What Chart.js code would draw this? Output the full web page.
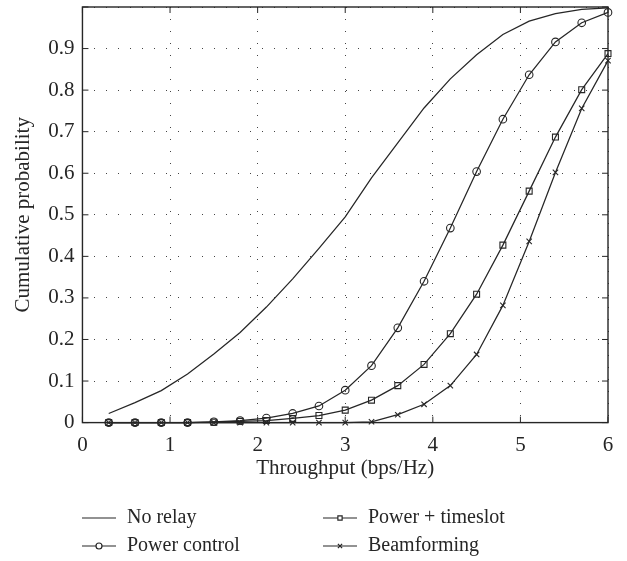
<!DOCTYPE html>
<html>
<head>
<meta charset="utf-8">
<script src="https://cdn.jsdelivr.net/npm/chart.js@4.4.1/dist/chart.umd.min.js"></script>
<style>
  html, body { margin: 0; padding: 0; background: #fff; }
  #wrap { width: 627px; height: 561px; position: relative; }
</style>
</head>
<body>
<div id="wrap"><canvas id="c"></canvas></div>
<script>
// throughput samples (bps/Hz) shared by every curve
var throughput = [0.3, 0.6, 0.9, 1.2, 1.5, 1.8, 2.1, 2.4, 2.7, 3.0,
                  3.3, 3.6, 3.9, 4.2, 4.5, 4.8, 5.1, 5.4, 5.7, 6.0];

// cumulative probability
var noRelay       = [0.022, 0.048, 0.077, 0.117, 0.165, 0.217, 0.278, 0.346, 0.419, 0.495,
                     0.589, 0.673, 0.757, 0.827, 0.885, 0.934, 0.966, 0.984, 0.994, 0.998];
var powerControl  = [0, 0, 0, 0, 0.002, 0.005, 0.011, 0.022, 0.040, 0.078,
                     0.137, 0.228, 0.340, 0.468, 0.604, 0.730, 0.837, 0.916, 0.962, 0.987];
var powerTimeslot = [0, 0, 0, 0, 0.001, 0.003, 0.005, 0.010, 0.017, 0.030,
                     0.054, 0.089, 0.140, 0.214, 0.309, 0.427, 0.557, 0.687, 0.801, 0.888];
var beamforming   = [0, 0, 0, 0, 0, 0, 0, 0, 0, 0,
                     0.002, 0.019, 0.044, 0.089, 0.164, 0.282, 0.436, 0.602, 0.756, 0.871];

var seriesNames = ['No relay', 'Power control', 'Power + timeslot', 'Beamforming'];
var xTicks = [0, 1, 2, 3, 4, 5, 6];
var yTicks = [0, 0.1, 0.2, 0.3, 0.4, 0.5, 0.6, 0.7, 0.8, 0.9, 1];

var FONT = "'Liberation Serif', 'DejaVu Serif', serif";
var INK = '#262626';

function pts(ys) {
  return throughput.map(function(x, i) { return { x: x, y: ys[i] }; });
}

function series(label, ys, style, r) {
  return {
    label: label,
    data: pts(ys),
    borderColor: INK,
    borderWidth: 1.25,
    backgroundColor: 'rgba(255,255,255,0)',
    pointStyle: style,
    pointRadius: r,
    pointBorderWidth: 1.1,
    pointBorderColor: INK,
    pointBackgroundColor: 'rgba(255,255,255,0)',
    tension: 0,
    clip: false
  };
}

// frame with inward ticks, plus the two column legend under the axis title
var framePlugin = {
  id: 'frame',
  afterDraw: function(chart) {
    var ctx = chart.ctx, a = chart.chartArea;
    var sx = chart.scales.x, sy = chart.scales.y;
    ctx.save();
    ctx.strokeStyle = INK;
    ctx.setLineDash([]);
    ctx.lineWidth = 1.4;
    ctx.strokeRect(a.left, a.top, a.right - a.left, a.bottom - a.top);
    ctx.lineWidth = 1;
    ctx.beginPath();
    xTicks.forEach(function(v) {
      var p = sx.getPixelForValue(v);
      ctx.moveTo(p, a.bottom); ctx.lineTo(p, a.bottom - 6);
      ctx.moveTo(p, a.top); ctx.lineTo(p, a.top + 6);
    });
    yTicks.forEach(function(v) {
      var p = sy.getPixelForValue(v);
      ctx.moveTo(a.left, p); ctx.lineTo(a.left + 6, p);
      ctx.moveTo(a.right, p); ctx.lineTo(a.right - 6, p);
    });
    ctx.stroke();

    // legend
    var cols = [82, 323], rows = [518, 546];
    var place = [[0, 0], [0, 1], [1, 0], [1, 1]];
    ctx.font = '20px ' + FONT;
    ctx.textBaseline = 'middle';
    chart.data.datasets.forEach(function(ds, i) {
      var x = cols[place[i][0]], y = rows[place[i][1]];
      ctx.lineWidth = 1.2;
      ctx.beginPath();
      ctx.moveTo(x, y); ctx.lineTo(x + 34, y);
      ctx.stroke();
      if (ds.pointRadius > 0) {
        ctx.fillStyle = '#fff';
        Chart.helpers.drawPoint(ctx, {
          pointStyle: ds.pointStyle, radius: 3, rotation: 0, borderWidth: 1
        }, x + 17, y);
      }
      ctx.fillStyle = INK;
      ctx.fillText(ds.label, x + 45, y);
    });
    ctx.restore();
  }
};

new Chart(document.getElementById('c'), {
  type: 'line',
  data: {
    datasets: [
      series(seriesNames[0], noRelay, 'circle', 0),
      series(seriesNames[1], powerControl, 'circle', 3.8),
      series(seriesNames[2], powerTimeslot, 'rect', 4.2),
      series(seriesNames[3], beamforming, 'crossRot', 3.8)
    ]
  },
  options: {
    responsive: true,
    maintainAspectRatio: false,
    animation: false,
    layout: { padding: { top: 7, right: 19, bottom: 80, left: 11 } },
    plugins: { legend: { display: false }, tooltip: { enabled: false } },
    scales: {
      x: {
        type: 'linear', min: 0, max: 6,
        afterBuildTicks: function(s) { s.ticks = xTicks.map(function(v) { return { value: v }; }); },
        ticks: { color: INK, font: { family: FONT, size: 21 }, padding: 10, maxRotation: 0 },
        grid: { color: '#444', lineWidth: 1, drawTicks: false },
        border: { display: false, dash: [1, 11] },
        title: { display: true, text: 'Throughput (bps/Hz)', color: INK,
                 font: { family: FONT, size: 21 }, padding: { top: -12, bottom: 0 } }
      },
      y: {
        type: 'linear', min: 0, max: 1,
        afterBuildTicks: function(s) { s.ticks = yTicks.map(function(v) { return { value: v }; }); },
        afterFit: function(s) { s.paddingTop = 0; },
        ticks: {
          color: INK, font: { family: FONT, size: 21 }, padding: 8,
          callback: function(v) { return v === 1 ? '' : String(Math.round(v * 10) / 10); }
        },
        grid: { color: '#444', lineWidth: 1, drawTicks: false },
        border: { display: false, dash: [1, 11] },
        title: { display: true, text: 'Cumulative probability', color: INK,
                 font: { family: FONT, size: 21 }, padding: { top: 0, bottom: 4 } }
      }
    }
  },
  plugins: [framePlugin]
});
</script>
</body>
</html>
